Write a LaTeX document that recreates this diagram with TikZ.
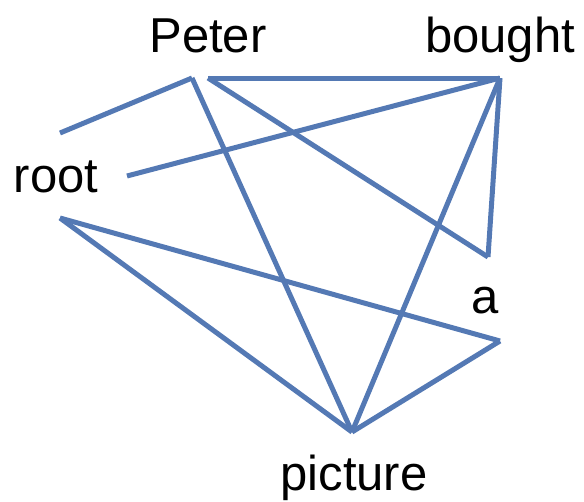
\documentclass[tikz,border=0pt]{standalone}
\usepackage{fontspec}
\setmainfont{Liberation Sans}
\definecolor{myblue}{HTML}{5479B4}
\usetikzlibrary{positioning}
\tikzset{
	wordnode/.style={
			anchor=base,
			inner sep=0pt,
			text=black,
			font=\fontsize{49}{59}\selectfont
		},
	linkline/.style={
			draw=myblue,
			line width=5pt,
			line cap=butt,
			line join=miter
		}
}
\begin{document}
\begin{tikzpicture}[x=1pt, y=-1pt]
\useasboundingbox (0,0) rectangle (584,501);
\node[wordnode] (peter) at (208,52)  { Peter };
\node[wordnode] (bought) at (500,52)  { bought };
\node[wordnode] (root) at (56,192)  { root };
\node[wordnode] (a) at (485,313)  { a };
\node[wordnode] (picture) at (354,490)  { picture };

\coordinate (rootA) at (60,133);
\coordinate (rootB) at (127,176);
\coordinate (rootC) at (60,218);
\coordinate (peterL) at (192,78);
\coordinate (peterR) at (208,78);
\coordinate (boughtV) at (500,78);
\coordinate (aTop) at (488,257);
\coordinate (aBot) at (500,341);
\coordinate (pictureV) at (352,432);

\draw[linkline] (rootA) -- (peterL);
\draw[linkline] (peterL) -- (pictureV);
\draw[linkline] (peterR) -- (boughtV);
\draw[linkline] (peterR) -- (aTop);
\draw[linkline] (aTop) -- (boughtV);
\draw[linkline] (rootB) -- (boughtV);
\draw[linkline] (boughtV) -- (pictureV);
\draw[linkline] (rootC) -- (pictureV);
\draw[linkline] (rootC) -- (aBot);
\draw[linkline] (aBot) -- (pictureV);
\end{tikzpicture}
\end{document}
